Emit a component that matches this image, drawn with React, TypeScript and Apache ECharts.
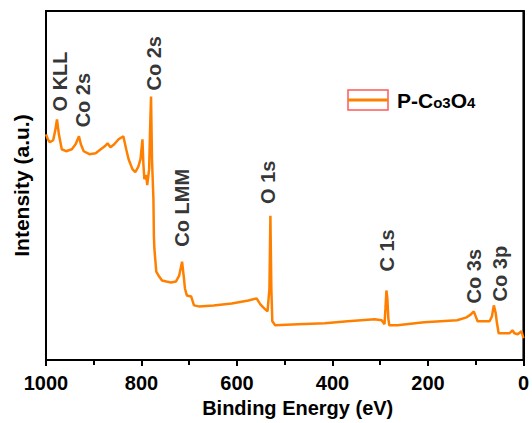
import React, { useEffect, useRef } from "react";
import * as echarts from "echarts";

const energies = [
  1000, 996, 992, 985, 981, 977, 973, 967, 958, 946, 938, 931, 927, 921, 909, 896, 888, 877, 871, 865,
  857, 848, 838, 832, 827, 819, 813, 807, 802, 798, 796, 794, 790, 788, 784, 782, 780, 778, 775, 774,
  773, 769, 763, 757, 748, 738, 728, 721, 715, 711, 709, 705, 696, 690, 680, 649, 611, 576, 559, 551,
  543, 536, 532, 530, 528, 526, 520, 472, 416, 368, 312, 297, 291, 289, 287, 285, 283, 281, 264, 208,
  139, 119, 110, 104, 100, 96, 71, 66, 62, 58, 56, 52, 29, 23, 19, 12, 4, 0,
];
const intensities = [
  227, 222, 219, 221, 230, 242, 227, 212, 210, 212, 217, 225, 217, 210, 207, 208, 211, 215, 218, 214,
  217, 222, 225, 212, 202, 192, 189, 194, 202, 222, 197, 182, 186, 176, 192, 232, 265, 202, 162, 125,
  112, 89, 84, 80, 79, 78, 79, 85, 99, 82, 72, 65, 64, 55, 54, 55, 57, 60, 62, 56,
  52, 49, 72, 145, 72, 39, 35, 36, 37, 39, 41, 40, 36, 52, 70, 62, 42, 35, 35, 38,
  40, 43, 46, 49, 44, 39, 39, 44, 55, 47, 39, 27, 27, 30, 27, 26, 29, 22,
];

const peakNames = ["O KLL", "Co 2s", "Co 2s", "Co LMM", "O 1s", "C 1s", "Co 3s", "Co 3p"];
const peakEnergies = [971, 923, 773, 715, 534, 285, 104, 50];
const peakLabelBase = [250, 234, 271, 114, 157, 89, 57, 59];

const xTicks = [0, 200, 400, 600, 800, 1000];
const seriesName = "P-Co3O4";

const FONT = "Liberation Sans, Arial, sans-serif";
const ORANGE = "#ff8000";

export default function App() {
  const ref = useRef<HTMLDivElement>(null);
  useEffect(() => {
    if (!ref.current) return;
    const chart = echarts.init(ref.current, undefined, { renderer: "svg" });
    const line = energies.map((e, i) => [e, intensities[i]]);
    const labels = peakNames.map((n, i) => ({ value: [peakEnergies[i], peakLabelBase[i]], name: n }));
    chart.setOption({
      animation: false,
      backgroundColor: "#fff",
      grid: {
        left: 46,
        right: 5,
        top: 11,
        bottom: 61,
        show: true,
        borderColor: "#000",
        borderWidth: 2,
        backgroundColor: "transparent",
      },
      xAxis: {
        type: "value",
        min: 0,
        max: 1000,
        interval: 200,
        inverse: true,
        name: "Binding Energy (eV)",
        nameLocation: "middle",
        nameGap: 37,
        nameTextStyle: { fontFamily: FONT, fontWeight: "bold", fontSize: 20, color: "#000", padding: [0, 0, 0, 26] },
        axisLine: { show: true, lineStyle: { color: "#000", width: 2 } },
        axisTick: { show: true, inside: false, length: 6, lineStyle: { color: "#000", width: 2 } },
        minorTick: { show: true, splitNumber: 2, length: 5, lineStyle: { color: "#000", width: 2 } },
        splitLine: { show: false },
        axisLabel: {
          fontFamily: FONT,
          fontWeight: "bold",
          fontSize: 20,
          color: "#000",
          margin: 13,
          formatter: (v: number) => (xTicks.includes(v) ? String(v) : ""),
        },
      },
      yAxis: {
        type: "value",
        min: 0,
        max: 351,
        name: "Intensity (a.u.)",
        nameLocation: "middle",
        nameRotate: 90,
        nameGap: 14,
        nameTextStyle: { fontFamily: FONT, fontWeight: "bold", fontSize: 21, color: "#000" },
        axisLine: { show: true, lineStyle: { color: "#000", width: 2 } },
        axisTick: { show: false },
        axisLabel: { show: false },
        splitLine: { show: false },
      },
      series: [
        {
          name: seriesName,
          type: "line",
          data: line,
          showSymbol: false,
          symbol: "none",
          lineStyle: { color: ORANGE, width: 2.5 },
        },
        {
          type: "scatter",
          data: labels,
          symbolSize: 0,
          silent: true,
          label: {
            show: true,
            position: "inside",
            rotate: 90,
            align: "left",
            verticalAlign: "middle",
            formatter: (p: any) => p.name,
            fontFamily: FONT,
            fontWeight: "bold",
            fontSize: 20,
            color: "#000",
          },
        },
      ],
      graphic: [
        {
          type: "rect",
          shape: { x: 348, y: 90, width: 40, height: 20 },
          style: { fill: "none", stroke: "#ff5a5a", lineWidth: 1.5 },
        },
        {
          type: "line",
          shape: { x1: 348, y1: 100, x2: 388, y2: 100 },
          style: { stroke: ORANGE, lineWidth: 3 },
        },
        {
          type: "text",
          x: 397,
          y: 100,
          style: {
            text: "{b|P-C}{s|o3}{b|O}{s|4}",
            verticalAlign: "middle",
            fill: "#000",
            rich: {
              b: { fontFamily: FONT, fontWeight: "bold", fontSize: 21, fill: "#000" },
              s: { fontFamily: FONT, fontWeight: "bold", fontSize: 15, fill: "#000", padding: [4, 0, 0, 0] },
            },
          },
        },
      ],
    });
    return () => chart.dispose();
  }, []);
  return <div ref={ref} style={{ position: "fixed", left: 0, top: 0, width: 532, height: 423 }} />;
}
